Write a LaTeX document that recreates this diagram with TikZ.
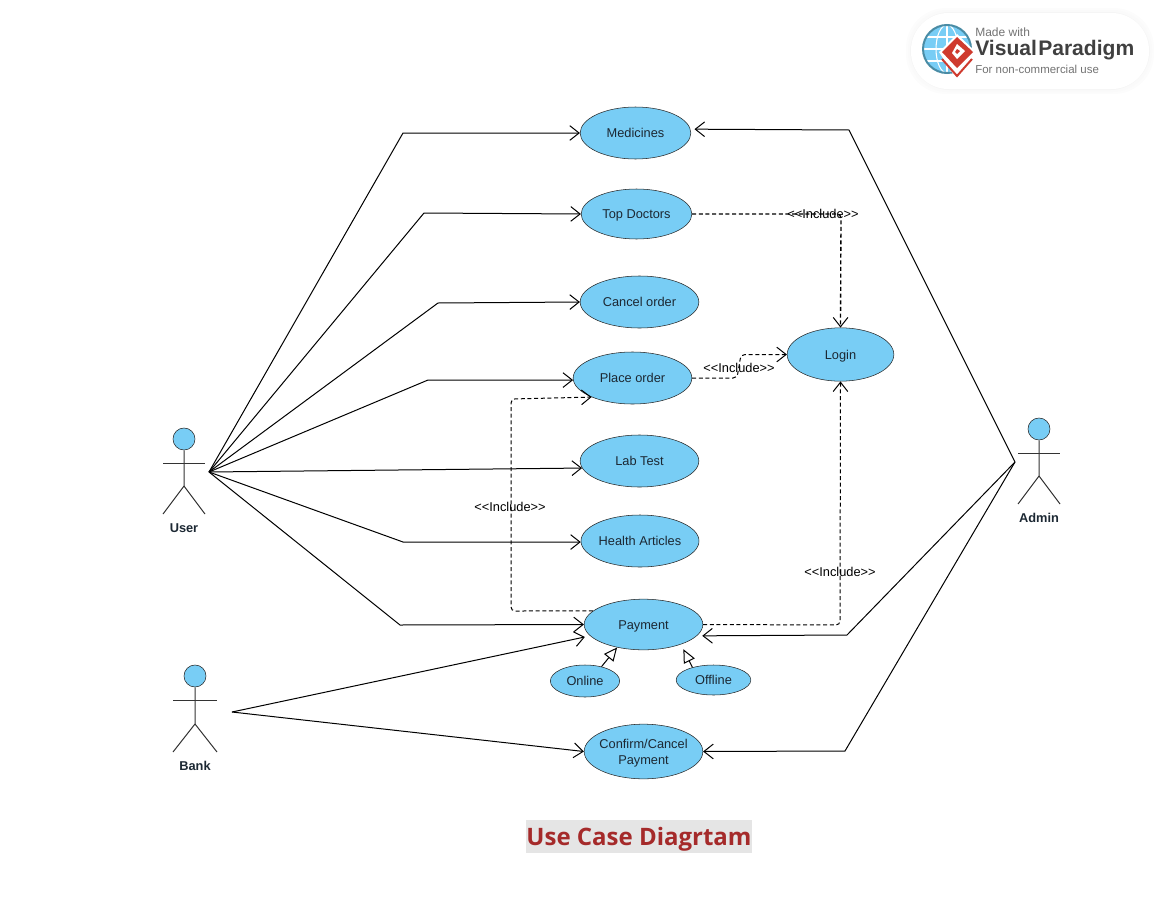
\documentclass[tikz,border=0pt]{standalone}
\usepackage{fontspec}
\setmainfont{Liberation Sans}[Ligatures=NoCommon]
\newfontfamily\titlefont{Open Sans}
\usetikzlibrary{arrows.meta,shapes.geometric}
\definecolor{ucfill}{HTML}{78CDF5}
\definecolor{uctext}{HTML}{1C2833}
\definecolor{titlered}{HTML}{A52A2A}
\definecolor{titleback}{HTML}{E5E5E5}
\definecolor{vpred}{HTML}{CF3A2E}
\definecolor{vpteal}{HTML}{4A8CA5}
\newcommand{\inclabel}{{<}{<}Include{>}{>}}
\tikzset{
    usecase/.style={draw=black!85, fill=ucfill, ellipse, inner sep=0pt, align=center, text=uctext, font=\fontsize{9.6}{12}\selectfont},
    oneline/.style={text height=9pt, text depth=2pt},
    actorlabel/.style={font=\fontsize{9.6}{11}\selectfont\bfseries, text=uctext},
    assoc/.style={->, line width=0.75pt},
    incl/.style={->, line width=0.75pt, dashed, dash pattern=on 3pt off 2pt, rounded corners=3pt},
    incllabel/.style={font=\fontsize{9.6}{11}\selectfont, text=black},
    gener/.style={-{Triangle[open, fill=white, length=10pt, width=9pt]}, line width=0.75pt},
    actorline/.style={line width=0.75pt, black!80},
    >={Straight Barb[length=7pt, width=11pt, line width=0.75pt]}
}
\begin{document}
\begin{tikzpicture}[x=0.75pt, y=-0.75pt]
    \useasboundingbox (0,0) rectangle (1160,910);

    % Watermark
    \begin{scope}[shift={(911,13)}]
        \foreach \grow/\shade in {5/1, 3/2, 1/4}
            \fill[black!\shade, rounded corners=30pt] (-\grow,-\grow) rectangle (238+\grow,76+\grow);
        \fill[white, rounded corners=28pt] (0,0) rectangle (238,76);
        \coordinate (globe) at (36,36);
        \fill[ucfill] (globe) circle (24);
        \draw[white, line width=0.8pt] (globe) ellipse (11 and 24);
        \draw[white, line width=0.8pt] (12,36) -- (60,36) (15,24) -- (57,24) (15,48) -- (57,48) (36,12) -- (36,60);
        \draw[vpteal, line width=1.5pt] (globe) circle (24);
        \fill[white] (46,21) -- (65,39) -- (46,67) -- (28,39) -- cycle;
        \draw[vpred, line width=1.5pt] (31,46) -- (46,63) -- (61,46);
        \fill[vpred] (46,24) -- (62,39) -- (46,55) -- (31,39) -- cycle;
        \fill[white] (46,31) -- (54,38) -- (46,46) -- (41,40) -- cycle;
        \fill[vpred] (46,36) -- (49,38) -- (46,41) -- (44,39) -- cycle;
        \node[anchor=west, inner sep=0pt, text=black!55, font=\fontsize{9}{11}\selectfont] (madewith) at (64,19) {Made with};
        \node[anchor=west, inner sep=0pt, text=black!75, font=\fontsize{15.8}{18}\selectfont\bfseries] (vpname) at (64,37) {Visual\kern1pt Paradigm};
        \node[anchor=west, inner sep=0pt, text=black!55, font=\fontsize{8.6}{11}\selectfont] (noncomm) at (64,56) {For non-commercial use};
    \end{scope}

    % Use cases
    \node[usecase, oneline, minimum width=83pt, minimum height=39pt] (medicines) at (635.5,133) {Medicines};
    \node[usecase, oneline, minimum width=83pt, minimum height=37.5pt] (topdoctors) at (636.5,214) {Top Doctors};
    \node[usecase, oneline, minimum width=89pt, minimum height=39pt] (cancelorder) at (639.5,302) {Cancel order};
    \node[usecase, oneline, minimum width=89pt, minimum height=39pt] (placeorder) at (632.5,378) {Place order};
    \node[usecase, oneline, minimum width=89pt, minimum height=39pt] (labtest) at (639.5,461) {Lab Test};
    \node[usecase, oneline, minimum width=88.5pt, minimum height=39pt] (articles) at (640,541) {Health Articles};
    \node[usecase, oneline, minimum width=89pt, minimum height=38pt] (payment) at (643.5,624.5) {Payment};
    \node[usecase, oneline, minimum width=52pt, minimum height=24pt] (online) at (585,681) {Online};
    \node[usecase, oneline, minimum width=56pt, minimum height=22.5pt] (offline) at (713.5,680) {Offline};
    \node[usecase, minimum width=89pt, minimum height=41pt] (confirm) at (643.5,751.5) {};
    \node[align=center, inner sep=0pt, text=uctext, font=\fontsize{9.6}{12}\selectfont] (confirmtext) at (643.5,753.5) {Confirm/Cancel\\Payment};
    \node[usecase, oneline, minimum width=80pt, minimum height=40pt] (login) at (840.5,354.5) {Login};

    % User
    \begin{scope}[shift={(184,439)}]
        \node[draw=black!85, fill=ucfill, circle, minimum size=16.5pt, inner sep=0pt] (userhead) at (0,0) {};
        \draw[actorline] (userhead) -- (0,47) -- (-21,75);
        \draw[actorline] (0,47) -- (21,75);
        \draw[actorline] (-21,24) -- (21,24);
        \node[actorlabel] (user) at (0,89) {User};
        \coordinate (userport) at (25,33);
    \end{scope}

    % Bank
    \begin{scope}[shift={(195,676)}]
        \node[draw=black!85, fill=ucfill, circle, minimum size=16.5pt, inner sep=0pt] (bankhead) at (0,0) {};
        \draw[actorline] (bankhead) -- (0,48) -- (-22,76);
        \draw[actorline] (0,48) -- (22,76);
        \draw[actorline] (-22,24) -- (22,24);
        \node[actorlabel] (bank) at (0,90) {Bank};
        \coordinate (bankport) at (37,36);
    \end{scope}

    % Admin
    \begin{scope}[shift={(1039,429)}]
        \node[draw=black!85, fill=ucfill, circle, minimum size=16.5pt, inner sep=0pt] (adminhead) at (0,0) {};
        \draw[actorline] (adminhead) -- (0,47) -- (-21,75);
        \draw[actorline] (0,47) -- (21,75);
        \draw[actorline] (-21,24) -- (21,24);
        \node[actorlabel] (admin) at (0,89) {Admin};
        \coordinate (adminport) at (-24,33);
    \end{scope}

    % User associations
    \draw[assoc] (userport) -- (403,133) -- (medicines.west);
    \draw[assoc] (userport) -- (424,213) -- (topdoctors.west);
    \draw[assoc] (userport) -- (438,303) -- (cancelorder.west);
    \draw[assoc] (userport) -- (428,380) -- (placeorder.182);
    \draw[assoc] (userport) -- (labtest.187);
    \draw[assoc] (userport) -- (403,542) -- (articles.181);
    \draw[assoc] (userport) -- (400,625) -- (payment.west);

    % Bank associations
    \draw[assoc, shorten >=4pt] (bankport) -- (payment.192);
    \draw[assoc] (bankport) -- (confirm.west);

    % Admin associations
    \draw[assoc, shorten >=3pt] (adminport) -- (849,130) -- (medicines.4);
    \draw[assoc, shorten >=4pt] (adminport) -- (847,635) -- (payment.348);
    \draw[assoc] (adminport) -- (845,751) -- (confirm.east);

    % Includes
    \draw[incl, line width=1pt] (topdoctors.east) -- (841,214) -- (login.north);
    \node[incllabel] (incltop) at (823,214) {\inclabel};
    \draw[incl] (placeorder.east) -- (737,378) -- (741,354.5) -- (login.west);
    \node[incllabel] (inclplace) at (739,368) {\inclabel};
    \draw[incl] (payment.165) -- (511,611) -- (511,399) -- (placeorder.205);
    \node[incllabel] (inclpay) at (510,507) {\inclabel};
    \draw[incl] (payment.east) -- (840,625) -- (login.south);
    \node[incllabel] (incllogin) at (840,572) {\inclabel};

    % Generalisations
    \draw[gener] (online.41) -- (payment.221);
    \draw[gener, shorten >=4pt] (offline.149) -- (payment.332);

    % Title
    \node[fill=titleback, text=titlered, inner sep=0pt, minimum width=169pt, minimum height=25pt, text height=17pt, text depth=3.5pt, font=\titlefont\fontsize{18}{22}\selectfont\bfseries] (title) at (639,836.5) {Use Case Diagrtam};
\end{tikzpicture}
\end{document}
